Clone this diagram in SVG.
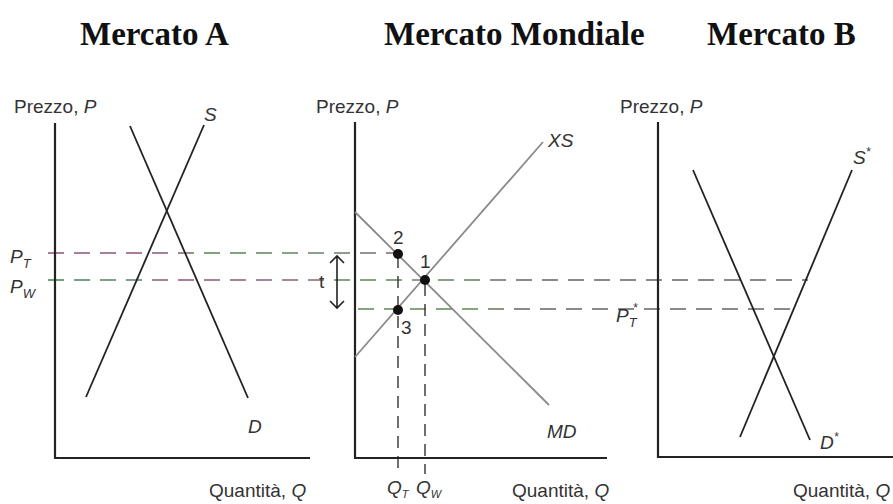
<svg xmlns="http://www.w3.org/2000/svg" width="893" height="504" viewBox="0 0 893 504">
<style>
.title{font-family:"Liberation Serif",serif;font-weight:bold;font-size:33px;fill:#111}
.lab{font-family:"Liberation Sans",Arial,sans-serif;font-size:19px;fill:#333}
.it{font-style:italic}
.axis{stroke:#222;stroke-width:2.2;fill:none}
.curve{stroke:#222;stroke-width:1.8;fill:none}
.gcurve{stroke:#8a8a8a;stroke-width:1.8;fill:none}
.dash{stroke-width:1.8;fill:none;stroke-dasharray:16 10}
.vdash{stroke:#333;stroke-width:1.4;fill:none;stroke-dasharray:12 8}
.dot{fill:#111}
</style>
<defs>
<linearGradient id="gT" gradientUnits="userSpaceOnUse" x1="48" y1="0" x2="397" y2="0">
<stop offset="0" stop-color="#a87e98"/><stop offset="0.35" stop-color="#a87e98"/><stop offset="0.45" stop-color="#7fa37f"/><stop offset="0.8" stop-color="#8fa08f"/><stop offset="1" stop-color="#9a8a96"/>
</linearGradient>
<linearGradient id="gW" gradientUnits="userSpaceOnUse" x1="48" y1="0" x2="808" y2="0">
<stop offset="0" stop-color="#6fa080"/><stop offset="0.1" stop-color="#7fa08a"/><stop offset="0.16" stop-color="#a87e98"/><stop offset="0.33" stop-color="#a08a98"/><stop offset="0.4" stop-color="#8aa37f"/><stop offset="0.55" stop-color="#8aa08a"/><stop offset="0.62" stop-color="#8a8a8a"/><stop offset="1" stop-color="#8a8a8a"/>
</linearGradient>
<linearGradient id="g3" gradientUnits="userSpaceOnUse" x1="358" y1="0" x2="795" y2="0">
<stop offset="0" stop-color="#8aa37f"/><stop offset="0.28" stop-color="#8aa37f"/><stop offset="0.36" stop-color="#8a8a8a"/><stop offset="1" stop-color="#8a8a8a"/>
</linearGradient>
</defs>

<g id="titles">
<text class="title" x="80" y="45">Mercato A</text>
<text class="title" x="384" y="45">Mercato Mondiale</text>
<text class="title" x="707" y="45">Mercato B</text>
</g>

<g id="connectors">
<line class="dash" x1="48" y1="253" x2="397" y2="253" stroke="url(#gT)"/>
<line class="dash" x1="48" y1="280" x2="808" y2="280" stroke="url(#gW)"/>
<line class="dash" x1="358" y1="309" x2="795" y2="309" stroke="url(#g3)"/>
<line class="vdash" x1="398" y1="256" x2="398" y2="474"/>
<line class="vdash" x1="425" y1="284" x2="425" y2="474"/>
</g>

<g id="mercato-a">
<line class="axis" x1="55" y1="123" x2="55" y2="458"/>
<line class="axis" x1="54" y1="458" x2="310" y2="458"/>
<line class="curve" x1="86" y1="397" x2="204" y2="125"/>
<line class="curve" x1="130" y1="126" x2="248" y2="398"/>
<text class="lab" x="14" y="113">Prezzo, <tspan class="it">P</tspan></text>
<text class="lab it" x="204" y="121">S</text>
<text class="lab it" x="248" y="433">D</text>
<text class="lab it" x="10" y="263" font-size="20">P<tspan font-size="13" dy="5">T</tspan></text>
<text class="lab it" x="10" y="293" font-size="20">P<tspan font-size="13" dy="5">W</tspan></text>
<text class="lab" x="209" y="497">Quantità, <tspan class="it">Q</tspan></text>
</g>

<g id="mercato-mondiale">
<line class="axis" x1="355" y1="122" x2="355" y2="458"/>
<line class="axis" x1="354" y1="458" x2="607" y2="458"/>
<line class="gcurve" x1="355" y1="212" x2="549" y2="405"/>
<line class="gcurve" x1="355" y1="357" x2="543" y2="142"/>
<circle class="dot" cx="398" cy="254" r="5"/>
<circle class="dot" cx="425" cy="280" r="5"/>
<circle class="dot" cx="398" cy="310" r="5"/>
<text class="lab" x="393" y="244">2</text>
<text class="lab" x="420" y="268">1</text>
<text class="lab" x="401" y="334">3</text>
<path d="M337 256 V308 M330 263 L337 256 L344 263 M330 301 L337 308 L344 301" stroke="#222" stroke-width="1.6" fill="none"/>
<text class="lab" x="319" y="288">t</text>
<text class="lab" x="316" y="113">Prezzo, <tspan class="it">P</tspan></text>
<text class="lab it" x="548" y="147">XS</text>
<text class="lab it" x="547" y="438">MD</text>
<text class="lab it" x="387" y="494">Q<tspan font-size="11" dy="4">T</tspan></text>
<text class="lab it" x="416" y="494">Q<tspan font-size="11" dy="4">W</tspan></text>
<text class="lab" x="512" y="497">Quantità, <tspan class="it">Q</tspan></text>
</g>

<g id="mercato-b">
<line class="axis" x1="658" y1="122" x2="658" y2="458"/>
<line class="axis" x1="657" y1="457" x2="893" y2="457"/>
<line class="curve" x1="693" y1="170" x2="810" y2="440"/>
<line class="curve" x1="852" y1="170" x2="740" y2="437"/>
<text class="lab" x="620" y="113">Prezzo, <tspan class="it">P</tspan></text>
<text class="lab it" x="853" y="164">S<tspan font-size="12" dy="-8">*</tspan></text>
<text class="lab it" x="820" y="449">D<tspan font-size="12" dy="-8">*</tspan></text>
<text class="lab it" x="616" y="322" font-size="20">P<tspan font-size="13" dy="5">T</tspan><tspan font-size="12" dx="-4" dy="-15">*</tspan></text>
<text class="lab" x="793" y="497">Quantità, <tspan class="it">Q</tspan></text>
</g>
</svg>
